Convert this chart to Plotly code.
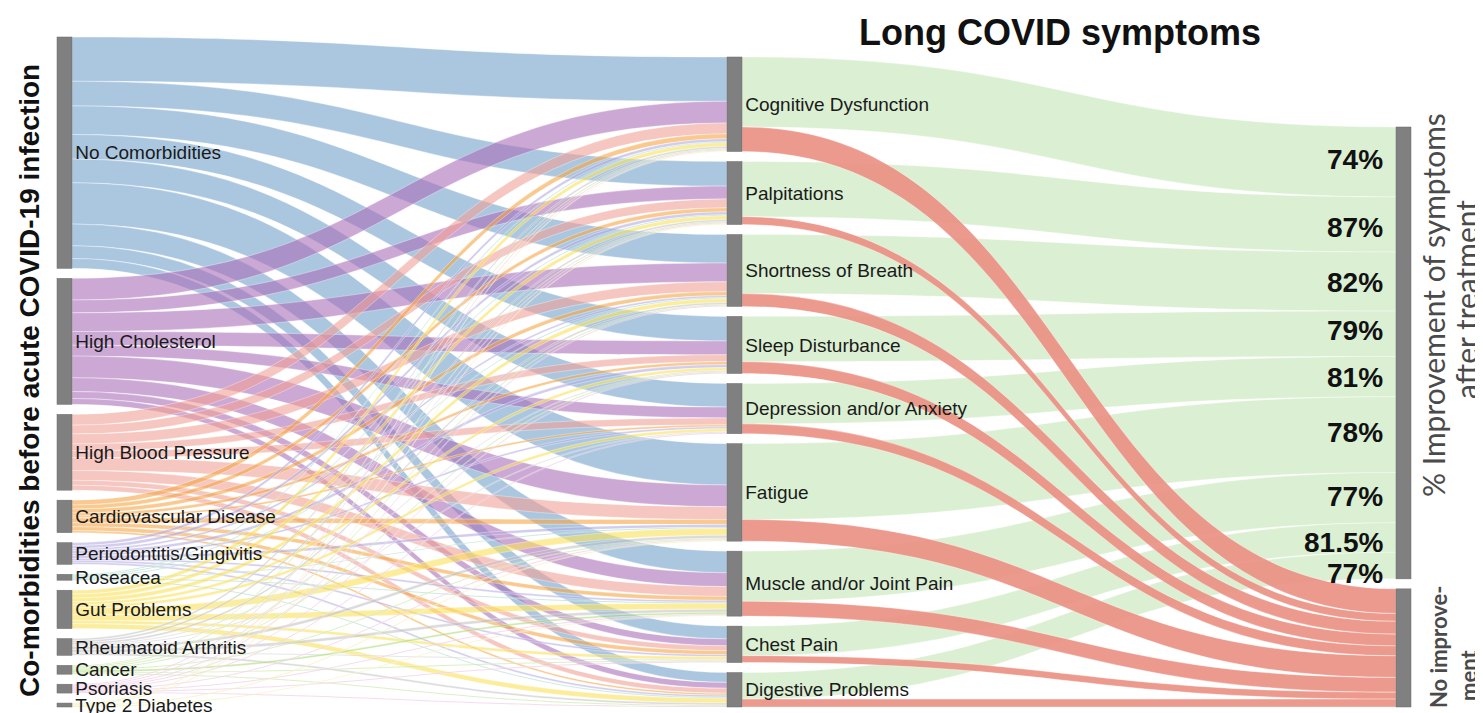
import plotly.graph_objects as go

# ---------------- data ----------------
comorbidities = ["No Comorbidities", "High Cholesterol", "High Blood Pressure", "Cardiovascular Disease",
                 "Periodontitis/Gingivitis", "Roseacea", "Gut Problems", "Rheumatoid Arthritis",
                 "Cancer", "Psoriasis", "Type 2 Diabetes"]
symptoms = ["Cognitive Dysfunction", "Palpitations", "Shortness of Breath", "Sleep Disturbance",
            "Depression and/or Anxiety", "Fatigue", "Muscle and/or Joint Pain", "Chest Pain",
            "Digestive Problems"]
outcomes = ["Improvement", "No improvement"]

# flows comorbidity -> symptom (one list per comorbidity, in symptom order)
no_comorbidities = [45, 25, 29, 25, 24, 42, 22, 13, 10]
high_cholesterol = [22, 13, 19, 14, 11, 22, 14, 7, 6]
high_blood_pressure = [11, 9, 10, 7, 7, 13, 10, 5, 5]
cardiovascular = [5, 4, 4, 3, 2, 5, 4, 4, 2]
periodontitis = [3, 3, 2, 3, 2, 3, 2, 2, 2]
roseacea = [1, 1, 1, 0, 0, 1, 1, 0, 1]
gut_problems = [4, 4, 4, 3, 3, 7, 6, 3, 5]
rheumatoid = [2, 2, 2, 1, 1, 3, 3, 1, 2]
cancer = [1, 1, 1, 1, 0, 1, 2, 1, 1]
psoriasis = [1, 1, 1, 1, 1, 1, 1, 1, 1]
type2_diabetes = [1, 1, 0, 0, 0, 1, 1, 0, 0]

# flows symptom -> outcome
improved = [71, 56, 60, 46, 41, 77, 51, 30, 27]
not_improved = [25, 8, 13, 12, 10, 22, 15, 7, 8]
pct_labels = ["74%", "87%", "82%", "79%", "81%", "78%", "77%", "81.5%", "77%"]

# ---------------- styling ----------------
flows = [no_comorbidities, high_cholesterol, high_blood_pressure, cardiovascular, periodontitis,
         roseacea, gut_problems, rheumatoid, cancer, psoriasis, type2_diabetes]
como_colors = ["rgba(120,165,205,0.62)", "rgba(170,110,185,0.6)", "rgba(240,160,150,0.6)",
               "rgba(245,165,70,0.6)", "rgba(180,170,225,0.6)", "rgba(130,205,180,0.6)",
               "rgba(250,225,90,0.6)", "rgba(190,190,190,0.55)", "rgba(160,215,100,0.55)",
               "rgba(230,160,210,0.55)", "rgba(235,225,120,0.5)"]
improve_color = "rgba(190,225,175,0.55)"
noimprove_color = "rgba(234,140,126,0.88)"
pct_nudge = [-2, 3, 1, -3, 1, -2, -1, 5, 8]  # small label offsets (px)

W, H = 1483, 713
OFF = 8  # page body margin of the html page
ml, mt = 57 - OFF, 37 - OFF
mr = W - (1410 - OFF)
mb = H - (707 - OFF)
PW, PH = W - ml - mr, H - mt - mb
pad = 10
thick = 15

nL, nM = len(comorbidities), len(symptoms)
labels = comorbidities + symptoms + ["", ""]

src, tgt, val, col = [], [], [], []
for i, row in enumerate(flows):
    for j, v in enumerate(row):
        if v > 0:
            src.append(i); tgt.append(nL + j); val.append(v); col.append(como_colors[i])
for j in range(nM):
    src.append(nL + j); tgt.append(nL + nM); val.append(improved[j]); col.append(improve_color)
for j in range(nM):
    src.append(nL + j); tgt.append(nL + nM + 1); val.append(not_improved[j]); col.append(noimprove_color)

# node values, as the layout engine computes them
left_vals = [sum(r) for r in flows]
mid_vals = [sum(r[j] for r in flows) for j in range(nM)]
right_vals = [sum(improved), sum(not_improved)]
columns = [left_vals, mid_vals, right_vals]
ky = min((PH - (len(c) - 1) * pad) / sum(c) for c in columns)


def pxx(x):
    return (x - OFF - ml) / PW


def pxy(y):
    return 1 - (y - OFF - mt) / PH


xcent = [pxx(64.5), pxx(734.5), pxx(1403.5)]
node_x, node_y = [], []
col_tops = []
for ci, c in enumerate(columns):
    total = sum(c) * ky + (len(c) - 1) * pad
    y = PH - total  # bottom aligned
    col_tops.append(y)
    for v in c:
        h = v * ky
        node_x.append(xcent[ci])
        node_y.append((y + h / 2) / PH)
        y += h + pad

fig = go.Figure(go.Sankey(
    arrangement="fixed",
    domain=dict(x=[0, 1], y=[0, 1]),
    node=dict(label=labels, x=node_x, y=node_y, pad=pad, thickness=thick,
              color="#808080", line=dict(color="#6a6a6a", width=0.5), hoverinfo="none"),
    link=dict(source=src, target=tgt, value=val, color=col, hoverinfo="none",
              line=dict(color="rgba(255,255,255,0.7)", width=0.5)),
    textfont=dict(family="Liberation Sans, Arial, sans-serif", size=19, color="#1a1a1a", shadow="none"),
))

ann = []
ann.append(dict(text="<b>Long COVID symptoms</b>", x=pxx(1060), y=pxy(33), xref="paper", yref="paper",
                showarrow=False, font=dict(family="Liberation Sans, Arial", size=36, color="#111"),
                xanchor="center", yanchor="middle"))
ann.append(dict(text="<b>Co-morbidities before acute COVID-19 infection</b>", x=pxx(29), y=pxy(381),
                xref="paper", yref="paper", showarrow=False, textangle=-90,
                font=dict(family="Liberation Sans, Arial", size=28, color="#111"),
                xanchor="center", yanchor="middle"))
ann.append(dict(text="% Improvement of symptoms", x=pxx(1433), y=pxy(305),
                xref="paper", yref="paper", showarrow=False, textangle=-90,
                font=dict(family="Lato, Open Sans", size=30, color="#4a4a4a"),
                xanchor="center", yanchor="middle"))
ann.append(dict(text="after treatment", x=pxx(1466), y=pxy(300),
                xref="paper", yref="paper", showarrow=False, textangle=-90,
                font=dict(family="Lato, Open Sans", size=30, color="#4a4a4a"),
                xanchor="center", yanchor="middle"))
ann.append(dict(text="<b>No improve-</b>", x=pxx(1438), y=pxy(647),
                xref="paper", yref="paper", showarrow=False, textangle=-90,
                font=dict(family="Lato, Open Sans", size=22, color="#4a4a4a"),
                xanchor="center", yanchor="middle"))
ann.append(dict(text="<b>ment</b>", x=pxx(1468), y=pxy(676),
                xref="paper", yref="paper", showarrow=False, textangle=-90,
                font=dict(family="Lato, Open Sans", size=22, color="#4a4a4a"),
                xanchor="center", yanchor="middle"))

# percentage labels centred on each improvement band
ytop = col_tops[2]
cum = 0
for j, lab in enumerate(pct_labels):
    h = improved[j] * ky
    yc = mt + OFF + ytop + cum + h / 2 + pct_nudge[j]
    cum += h
    ann.append(dict(text="<b>" + lab + "</b>", x=pxx(1385), y=pxy(yc), xref="paper", yref="paper",
                    showarrow=False, xanchor="right", yanchor="middle",
                    font=dict(family="Liberation Sans, Arial", size=28, color="#111")))

fig.update_layout(width=W, height=H, margin=dict(l=ml, r=mr, t=mt, b=mb),
                  paper_bgcolor="white", plot_bgcolor="white", annotations=ann)
fig.write_html("out.html")
